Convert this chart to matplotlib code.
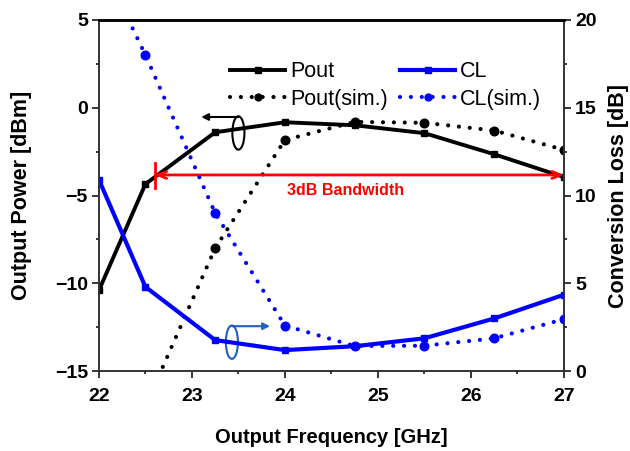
import matplotlib.pyplot as plt
from matplotlib.patches import Ellipse

freq = [22, 22.5, 23.25, 24, 24.75, 25.5, 26.25, 27]
pout = [-10.4, -4.35, -1.4, -0.83, -1.0, -1.45, -2.65, -3.95]
pout_sim = [-21, -17, -8.0, -1.84, -0.81, -0.86, -1.3, -2.4]
cl = [10.9, 4.8, 1.77, 1.2, 1.42, 1.87, 3.0, 4.35]
cl_sim = [23.5, 18.0, 9.0, 2.6, 1.43, 1.45, 1.87, 2.96]

plt.rcParams['font.family'] = ['Liberation Sans', 'DejaVu Sans']
fig = plt.figure(figsize=(6.3, 4.51), dpi=100)
ax = fig.add_axes([0.157, 0.177, 0.738, 0.779])
ax2 = ax.twinx()

dot = (0, (0.01, 2.6))
l1, = ax.plot(freq, pout, color='black', lw=2.8, marker='s', ms=5, label='Pout')
l3, = ax.plot(freq, pout_sim, color='black', lw=3, ls=dot, dash_capstyle='round',
              marker='o', ms=6.2, label='Pout(sim.)')
l2, = ax2.plot(freq, cl, color='#0000ff', lw=3, marker='s', ms=5, label='CL')
l4, = ax2.plot(freq, cl_sim, color='#0000ff', lw=3, ls=dot, dash_capstyle='round',
               marker='o', ms=6.2, label='CL(sim.)')

ax.set_xlim(22, 27)
ax.set_ylim(-15, 5)
ax2.set_ylim(0, 20)
ax.set_xticks(range(22, 28))
ax.set_xticks([22.5, 23.5, 24.5, 25.5, 26.5], minor=True)
ax.set_yticks([-15, -10, -5, 0, 5])
ax.set_yticks([-12.5, -7.5, -2.5, 2.5], minor=True)
ax2.set_yticks([0, 5, 10, 15, 20])
ax2.set_yticks([2.5, 7.5, 12.5, 17.5], minor=True)
for a in (ax, ax2):
    a.tick_params(which='both', direction='out', labelsize=14, pad=3)
    a.tick_params(which='major', length=5, width=1.1)
    a.tick_params(which='minor', length=2.5, width=1.1)
    for lab in a.get_xticklabels() + a.get_yticklabels():
        lab.set_fontweight('bold')
    for s in a.spines.values():
        s.set_linewidth(1.2)
        s.set_color('#333333')
    a.spines['top'].set_color('black')
    a.spines['top'].set_linewidth(1.8)
ax.tick_params(axis='x', pad=7)

ax.set_xlabel('Output Frequency [GHz]', fontsize=14.5, fontweight='bold', labelpad=17)
ax.set_ylabel('Output Power [dBm]', fontsize=15.5, fontweight='bold', labelpad=16)
ax2.set_ylabel('Conversion Loss [dB]', fontsize=15.5, fontweight='bold', labelpad=8)

ax.legend([l1, l3, l2, l4], ['Pout', 'Pout(sim.)', 'CL', 'CL(sim.)'], ncol=2,
          frameon=False, fontsize=15.5, loc='upper left', bbox_to_anchor=(0.25, 0.925),
          handlelength=2.55, columnspacing=0.55, handletextpad=0.25, labelspacing=0.3,
          markerscale=0.8, borderpad=0.2)

# 3dB bandwidth arrow
ax.annotate('', xy=(22.6, -3.83), xytext=(27, -3.83),
            arrowprops=dict(arrowstyle='<->,head_length=0.6,head_width=0.25',
                            color='red', lw=2, shrinkA=0, shrinkB=0))
ax.plot([22.6, 22.6], [-3.15, -4.55], color='red', lw=2)
ax.plot([27, 27], [-3.15, -4.55], color='red', lw=2)
ax.text(24.65, -4.72, '3dB Bandwidth', color='red', fontsize=11.5, fontweight='bold',
        ha='center', va='center')

# axis indicators
ax.add_patch(Ellipse((23.5, -1.44), 0.13, 1.9, fill=False, color='black', lw=1.5))
ax.annotate('', xy=(23.1, -0.53), xytext=(23.5, -0.53),
            arrowprops=dict(arrowstyle='-|>', color='black', lw=1.5, shrinkA=0, shrinkB=0))
ax2.add_patch(Ellipse((23.43, 1.65), 0.13, 1.9, fill=False, color='#1f5fbf', lw=1.5))
ax2.annotate('', xy=(23.84, 2.56), xytext=(23.43, 2.56),
             arrowprops=dict(arrowstyle='-|>', color='#1f5fbf', lw=1.5, shrinkA=0, shrinkB=0))

fig.savefig('out.png', dpi=100)
